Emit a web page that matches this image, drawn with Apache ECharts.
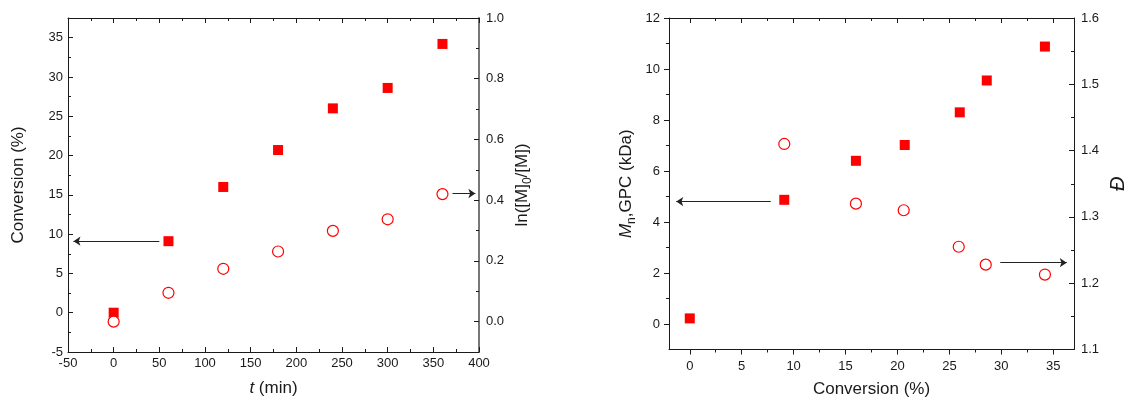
<!DOCTYPE html>
<html>
<head>
<meta charset="utf-8">
<style>
  html, body { margin: 0; padding: 0; background: #fff; }
  #chart { width: 1129px; height: 403px; }
</style>
<script src="https://cdn.jsdelivr.net/npm/echarts@6/dist/echarts.min.js"></script>
</head>
<body>
<div id="chart"></div>
<script>
// left panel: conversion and ln([M]0/[M]) vs time
const timeMin = [0, 60, 120, 180, 240, 300, 360]
const conversionPct = [0, 9.1, 16.0, 20.7, 26.0, 28.6, 34.2]
const lnM0M = [0.0, 0.095, 0.174, 0.231, 0.299, 0.337, 0.42]

// right panel: Mn,GPC and dispersity vs conversion
const convMn = [0, 9.1, 16.0, 20.7, 26.0, 28.6, 34.2]
const mnGpc = [0.22, 4.87, 6.4, 7.02, 8.3, 9.55, 10.88]
const convD = [9.1, 16.0, 20.6, 25.9, 28.5, 34.2]
const dispersity = [1.41, 1.32, 1.31, 1.255, 1.228, 1.213]

// tick labels / tick positions
const tTicks = [-50, 0, 50, 100, 150, 200, 250, 300, 350, 400]
const tMinor = [-25, 25, 75, 125, 175, 225, 275, 325, 375]
const convTicks = [-5, 0, 5, 10, 15, 20, 25, 30, 35]
const convMinor = [-2.5, 2.5, 7.5, 12.5, 17.5, 22.5, 27.5, 32.5]
const lnTicks = [0, 0.2, 0.4, 0.6, 0.8, 1.0]
const lnMinor = [0.1, 0.3, 0.5, 0.7, 0.9]
const xConvTicks = [0, 5, 10, 15, 20, 25, 30, 35]
const xConvMinor = [2.5, 7.5, 12.5, 17.5, 22.5, 27.5, 32.5]
const mnTicks = [0, 2, 4, 6, 8, 10, 12]
const mnMinor = [1, 3, 5, 7, 9, 11]
const dTicks = [1.1, 1.2, 1.3, 1.4, 1.5, 1.6]
const dMinor = [1.15, 1.25, 1.35, 1.45, 1.55]

// arrows pointing to the axis each series belongs to: [x1, y1, x2, y2]
const arrowConv = [50, 9.1, -44, 9.1]
const arrowLn = [371, 0.422, 396, 0.422]
const arrowMn = [7.8, 4.8, -1.3, 4.8]
const arrowD = [29.9, 1.231, 36.3, 1.231]

const font = '"Liberation Sans", Arial, sans-serif'
const ink = '#1a1a1a'
const red = '#ff0000'

const nameRich = {
  n: { fontSize: 17, fontFamily: font, color: ink, lineHeight: 24 },
  i: { fontSize: 17, fontFamily: font, color: ink, fontStyle: 'italic', lineHeight: 24 },
  d: { fontSize: 20, fontFamily: font, color: ink, fontStyle: 'italic', lineHeight: 24 },
  s: { fontSize: 12, fontFamily: font, color: ink, lineHeight: 12, verticalAlign: 'bottom' }
}

// one visible axis plus an overlay that only carries the short minor ticks
function axisPair(o) {
  const base = {
    type: 'value',
    gridIndex: o.grid,
    position: o.pos,
    min: o.min,
    max: o.max,
    splitLine: { show: false }
  }
  const major = Object.assign({}, base, {
    axisLine: { show: true, onZero: false, lineStyle: { color: o.lineColor || ink, width: o.lineWidth || 1 } },
    axisTick: { show: true, inside: o.inside, length: 5, customValues: o.ticks, lineStyle: { color: ink } },
    axisLabel: {
      show: !!o.labels,
      customValues: o.ticks,
      margin: o.margin,
      color: ink,
      fontSize: 13,
      fontFamily: font,
      formatter: o.fmt
    },
    name: o.name,
    nameLocation: 'middle',
    nameGap: o.nameGap,
    nameRotate: o.nameRotate,
    nameTextStyle: { rich: nameRich }
  })
  const minor = Object.assign({}, base, {
    axisLine: { show: false, onZero: false },
    axisTick: { show: true, inside: o.inside, length: 3, customValues: o.minor, lineStyle: { color: ink } },
    axisLabel: { show: false }
  })
  return [major, minor]
}

function arrow(a) {
  return {
    silent: true,
    symbol: ['none', 'arrow'],
    symbolSize: 7,
    label: { show: false },
    lineStyle: { color: '#222', width: 1, type: 'solid' },
    emphasis: { disabled: true },
    animation: false,
    data: [[{ coord: [a[0], a[1]] }, { coord: [a[2], a[3]] }]]
  }
}

const fmt1 = v => v.toFixed(1)

const xAxes = [].concat(
  axisPair({ grid: 0, pos: 'bottom', min: -50, max: 400, ticks: tTicks, minor: tMinor, inside: true,
    labels: true, margin: 5, name: '{i|t}{n| (min)}', nameGap: 24 }),
  axisPair({ grid: 0, pos: 'top', min: -50, max: 400, ticks: tTicks, minor: tMinor, inside: true }),
  axisPair({ grid: 1, pos: 'bottom', min: -2, max: 37, ticks: xConvTicks, minor: xConvMinor, inside: false,
    labels: true, margin: 10, name: '{n|Conversion (%)}', nameGap: 28 }),
  axisPair({ grid: 1, pos: 'top', min: -2, max: 37, ticks: xConvTicks, minor: xConvMinor, inside: true })
)

const yAxes = [].concat(
  axisPair({ grid: 0, pos: 'left', min: -5, max: 37.5, ticks: convTicks, minor: convMinor, inside: true,
    labels: true, margin: 5, name: '{n|Conversion (%)}', nameGap: 38, nameRotate: 90 }),
  axisPair({ grid: 0, pos: 'right', min: -0.1, max: 1.0, ticks: lnTicks, minor: lnMinor, inside: true,
    labels: true, margin: 7, fmt: fmt1, lineColor: '#777', lineWidth: 2,
    name: '{n|ln([M]}{s|0}{n|/[M])}', nameGap: 31, nameRotate: 90 }),
  axisPair({ grid: 1, pos: 'left', min: -1, max: 12, ticks: mnTicks, minor: mnMinor, inside: false,
    labels: true, margin: 9, name: '{i|M}{s|n}{n|,GPC (kDa)}', nameGap: 31, nameRotate: 90 }),
  axisPair({ grid: 1, pos: 'right', min: 1.1, max: 1.6, ticks: dTicks, minor: dMinor, inside: true,
    labels: true, margin: 7, fmt: fmt1, name: '{d|Đ}', nameGap: 32, nameRotate: 90 })
)

const chart = echarts.init(document.getElementById('chart'), null, { renderer: 'canvas' })
chart.setOption({
  animation: false,
  backgroundColor: '#fff',
  grid: [
    { left: 68, right: 650, top: 18, bottom: 51 },
    { left: 669, right: 50, top: 18, bottom: 51 }
  ],
  xAxis: xAxes,
  yAxis: yAxes,
  series: [
    {
      type: 'scatter',
      xAxisIndex: 0,
      yAxisIndex: 0,
      symbol: 'rect',
      symbolSize: 10,
      itemStyle: { color: red, opacity: 1 },
      data: timeMin.map((t, i) => [t, conversionPct[i]]),
      markLine: arrow(arrowConv)
    },
    {
      type: 'scatter',
      xAxisIndex: 0,
      yAxisIndex: 2,
      symbol: 'circle',
      symbolSize: 11,
      itemStyle: { color: '#fff', borderColor: red, borderWidth: 1.2, opacity: 1 },
      data: timeMin.map((t, i) => [t, lnM0M[i]]),
      markLine: arrow(arrowLn)
    },
    {
      type: 'scatter',
      xAxisIndex: 4,
      yAxisIndex: 4,
      symbol: 'rect',
      symbolSize: 10,
      itemStyle: { color: red, opacity: 1 },
      data: convMn.map((c, i) => [c, mnGpc[i]]),
      markLine: arrow(arrowMn)
    },
    {
      type: 'scatter',
      xAxisIndex: 4,
      yAxisIndex: 6,
      symbol: 'circle',
      symbolSize: 11,
      itemStyle: { color: '#fff', borderColor: red, borderWidth: 1.2, opacity: 1 },
      data: convD.map((c, i) => [c, dispersity[i]]),
      markLine: arrow(arrowD)
    }
  ]
})
</script>
</body>
</html>
